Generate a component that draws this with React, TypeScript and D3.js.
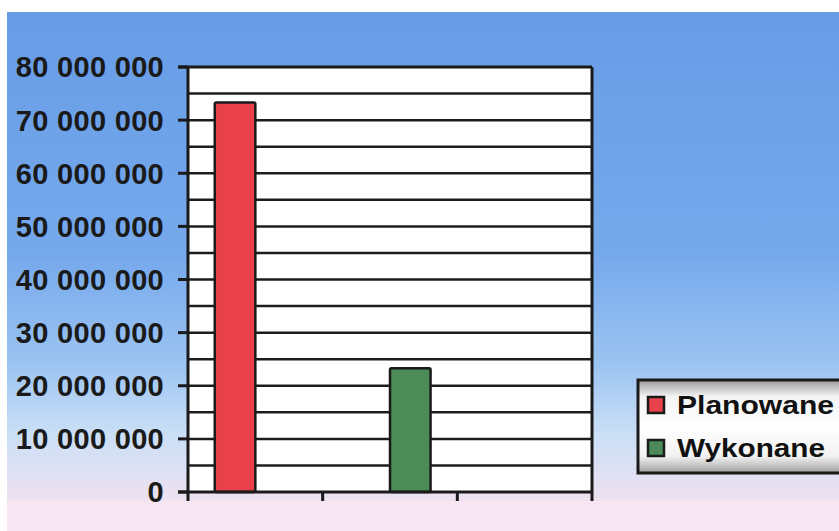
import React, { useEffect, useRef } from "react";
import * as d3 from "d3";

const categories = ["k1", "k2", "k3"];
const seriesNames = ["Planowane", "Wykonane"];
const planowane = [73300000, 0, 0];
const wykonane = [0, 23300000, 0];
const seriesColors = ["#e8414b", "#4b8b57"];

const W = 839,
  H = 531;
const plot = { left: 188, right: 592, top: 67, bottom: 492 };

export default function App(): JSX.Element {
  const ref = useRef<SVGSVGElement | null>(null);

  useEffect(() => {
    if (!ref.current) return;
    const svg = d3.select(ref.current);
    svg.selectAll("*").remove();

    const defs = svg.append("defs");
    const bg = defs
      .append("linearGradient")
      .attr("id", "bg")
      .attr("x1", 0)
      .attr("y1", 0)
      .attr("x2", 0)
      .attr("y2", 1);
    [
      ["0%", "#679ce6"],
      ["50%", "#76a9ec"],
      ["72%", "#9cc4f2"],
      ["86%", "#cadff6"],
      ["100%", "#efe1f1"],
    ].forEach(([o, c]) => bg.append("stop").attr("offset", o).attr("stop-color", c));

    const lg = defs
      .append("linearGradient")
      .attr("id", "lg")
      .attr("x1", 0)
      .attr("y1", 0)
      .attr("x2", 0)
      .attr("y2", 1);
    [
      ["0%", "#9a9a9a"],
      ["18%", "#f4f4f4"],
      ["50%", "#ffffff"],
      ["82%", "#f2f2f2"],
      ["100%", "#a0a0a0"],
    ].forEach(([o, c]) => lg.append("stop").attr("offset", o).attr("stop-color", c));

    // background
    svg.append("rect").attr("width", W).attr("height", H).attr("fill", "#ffffff");
    svg
      .append("rect")
      .attr("x", 7)
      .attr("y", 12)
      .attr("width", W - 7)
      .attr("height", 490)
      .attr("fill", "url(#bg)");
    svg
      .append("rect")
      .attr("x", 7)
      .attr("y", 501)
      .attr("width", W - 7)
      .attr("height", H - 501)
      .attr("fill", "#f8e5f2");

    const x0 = d3
      .scaleBand()
      .domain(categories)
      .range([plot.left, plot.right])
      .padding(0);
    const x1 = d3
      .scaleBand()
      .domain(seriesNames)
      .range([0, x0.bandwidth()])
      .paddingInner(0)
      .paddingOuter(0.66);
    const y = d3
      .scaleLinear()
      .domain([0, 80000000])
      .range([plot.bottom, plot.top]);

    const g = svg.append("g");

    g.append("rect")
      .attr("x", plot.left)
      .attr("y", plot.top)
      .attr("width", plot.right - plot.left)
      .attr("height", plot.bottom - plot.top)
      .attr("fill", "#ffffff");

    // gridlines every 5 000 000
    const gridVals = d3.range(5000000, 80000000, 5000000);
    g.selectAll(".grid")
      .data(gridVals)
      .enter()
      .append("line")
      .attr("x1", plot.left)
      .attr("x2", plot.right)
      .attr("y1", (d) => y(d))
      .attr("y2", (d) => y(d))
      .attr("stroke", "#1c1c1c")
      .attr("stroke-width", 2.5);

    // bars
    const values = [planowane, wykonane];
    seriesNames.forEach((s, si) => {
      g.selectAll(".bar" + si)
        .data(categories.map((c, i) => ({ c, v: values[si][i] })).filter((d) => d.v > 0))
        .enter()
        .append("rect")
        .attr("x", (d) => (x0(d.c) as number) + (x1(s) as number))
        .attr("width", x1.bandwidth())
        .attr("y", (d) => y(d.v))
        .attr("height", (d) => y(0) - y(d.v))
        .attr("fill", seriesColors[si])
        .attr("stroke", "#1a1a1a")
        .attr("stroke-width", 2.5)
        .attr("rx", 1.5);
    });

    // frame
    g.append("line")
      .attr("x1", plot.left - 10)
      .attr("x2", plot.right)
      .attr("y1", plot.top)
      .attr("y2", plot.top)
      .attr("stroke", "#1a1a1a")
      .attr("stroke-width", 3);
    g.append("line")
      .attr("x1", plot.left - 10)
      .attr("x2", plot.right)
      .attr("y1", plot.bottom)
      .attr("y2", plot.bottom)
      .attr("stroke", "#1a1a1a")
      .attr("stroke-width", 3);
    [plot.left, plot.right].forEach((xx) =>
      g
        .append("line")
        .attr("x1", xx)
        .attr("x2", xx)
        .attr("y1", plot.top)
        .attr("y2", plot.bottom + 9)
        .attr("stroke", "#1a1a1a")
        .attr("stroke-width", 3)
    );

    // category ticks
    g.selectAll(".xt")
      .data(categories.slice(1))
      .enter()
      .append("line")
      .attr("x1", (d) => x0(d) as number)
      .attr("x2", (d) => x0(d) as number)
      .attr("y1", plot.bottom)
      .attr("y2", plot.bottom + 9)
      .attr("stroke", "#1a1a1a")
      .attr("stroke-width", 3);

    // y axis ticks and labels
    const yTicks = y.ticks(8);
    g.selectAll(".yt")
      .data(yTicks)
      .enter()
      .append("line")
      .attr("x1", plot.left - 10)
      .attr("x2", plot.left)
      .attr("y1", (d) => y(d))
      .attr("y2", (d) => y(d))
      .attr("stroke", "#1a1a1a")
      .attr("stroke-width", 3);

    const fmt = (d: number) => d3.format(",")(d).replace(/,/g, " ");
    g.selectAll(".yl")
      .data(yTicks)
      .enter()
      .append("text")
      .attr("x", 164)
      .attr("y", (d) => y(d))
      .attr("dy", "0.36em")
      .attr("text-anchor", "end")
      .attr("font-family", "Liberation Sans, Arial, sans-serif")
      .attr("font-weight", "bold")
      .attr("font-size", 29)
      .attr("letter-spacing", 0.3)
      .attr("fill", "#1a1a1a")
      .text((d) => fmt(d));

    // legend
    const leg = svg.append("g");
    leg
      .append("rect")
      .attr("x", 638)
      .attr("y", 380)
      .attr("width", 215)
      .attr("height", 93)
      .attr("fill", "url(#lg)")
      .attr("stroke", "#1a1a1a")
      .attr("stroke-width", 3);
    seriesNames.forEach((s, i) => {
      const cy = 405 + i * 43;
      leg
        .append("rect")
        .attr("x", 648)
        .attr("y", cy - 8)
        .attr("width", 16)
        .attr("height", 16)
        .attr("fill", seriesColors[i])
        .attr("stroke", "#1a1a1a")
        .attr("stroke-width", 2.5);
      leg
        .append("text")
        .attr("x", 677)
        .attr("y", cy)
        .attr("dy", "0.36em")
        .attr("font-family", "Liberation Sans, Arial, sans-serif")
        .attr("font-weight", "bold")
        .attr("font-size", 25)
        .attr("textLength", i === 0 ? 157 : 148)
        .attr("lengthAdjust", "spacingAndGlyphs")
        .attr("fill", "#111")
        .text(s);
    });
  }, []);

  return (
    <svg
      ref={ref}
      width={W}
      height={H}
      style={{ position: "absolute", left: 0, top: 0 }}
    />
  );
}
